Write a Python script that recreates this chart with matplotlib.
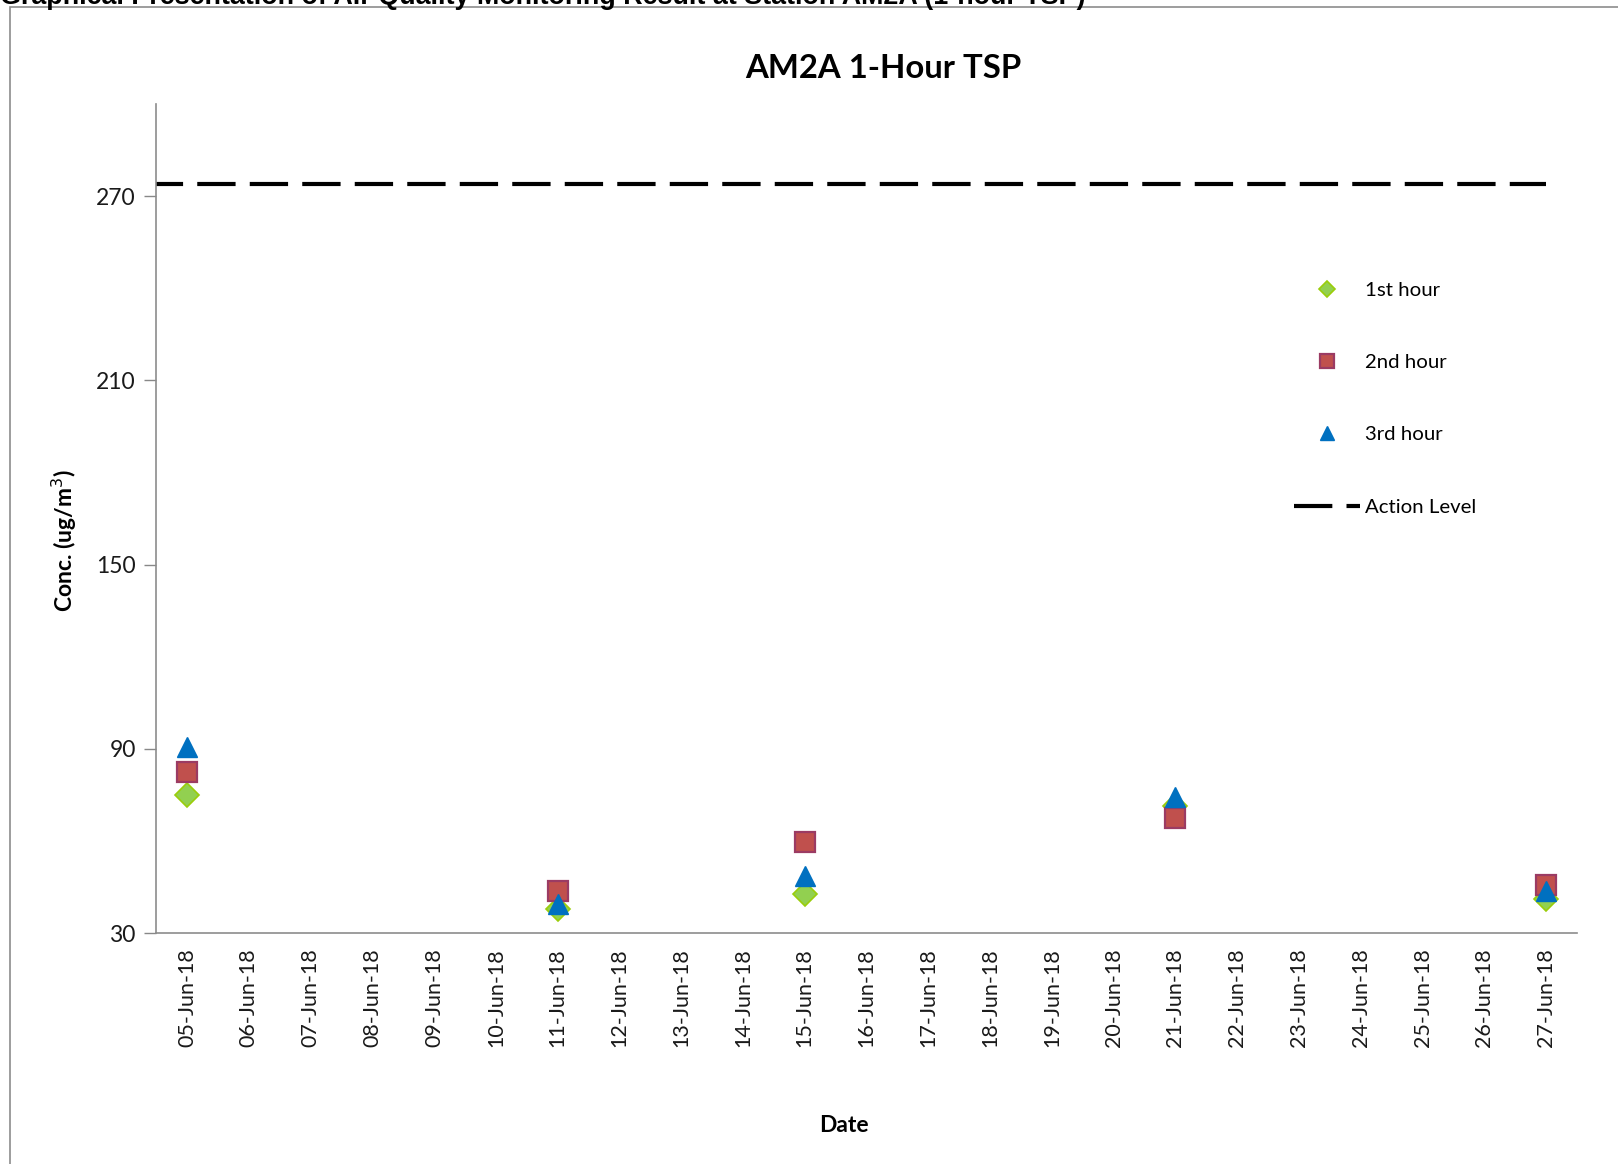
import matplotlib.pyplot as plt
from matplotlib.patches import Rectangle
from matplotlib.lines import Line2D

W, H = 1618, 1164

dates = ['05-Jun-18', '06-Jun-18', '07-Jun-18', '08-Jun-18', '09-Jun-18', '10-Jun-18',
         '11-Jun-18', '12-Jun-18', '13-Jun-18', '14-Jun-18', '15-Jun-18', '16-Jun-18',
         '17-Jun-18', '18-Jun-18', '19-Jun-18', '20-Jun-18', '21-Jun-18', '22-Jun-18',
         '23-Jun-18', '24-Jun-18', '25-Jun-18', '26-Jun-18', '27-Jun-18']

# sampling days and measured values
sample_dates = ['05-Jun-18', '11-Jun-18', '15-Jun-18', '21-Jun-18', '27-Jun-18']
hour1 = [74.8, 37.7, 42.8, 71.5, 41.1]
hour2 = [82.5, 43.8, 59.6, 67.4, 45.5]
hour3 = [90.6, 39.4, 48.5, 74.4, 43.8]
action_level = 274

y_ticks = [30, 90, 150, 210, 270]

plt.rcParams['font.family'] = ['Lato', 'DejaVu Sans']

fig = plt.figure(figsize=(W / 100, H / 100), dpi=100)
ax = fig.add_axes([156 / W, 1 - 933 / H, (1577 - 156) / W, (933 - 104) / H])

xs = [dates.index(d) for d in sample_dates]

h1, = ax.plot(xs, hour1, linestyle='none', marker='D', markersize=12,
              markerfacecolor='#92D050', markeredgecolor='#9ACD0A', markeredgewidth=1.2,
              label='1st hour', zorder=3)
h2, = ax.plot(xs, hour2, linestyle='none', marker='s', markersize=14,
              markerfacecolor='#C0504D', markeredgecolor='#9B3B63', markeredgewidth=1.6,
              label='2nd hour', zorder=3)
h3, = ax.plot(xs, hour3, linestyle='none', marker='^', markersize=14,
              markerfacecolor='#0070C0', markeredgecolor='#0070C0', markeredgewidth=1,
              label='3rd hour', zorder=4)
ax.plot([-0.5, len(dates) - 1], [action_level, action_level], color='black', lw=3,
        linestyle=(2.7, (9.2, 3.4)), zorder=2)
# legend swatch starts with a full dash, as in the original
h4 = Line2D([], [], color='black', lw=3, linestyle=(0, (9.2, 3.4)), label='Action Level')

ax.set_xlim(-0.5, len(dates) - 0.5)
ax.set_ylim(30, 300)
ax.set_yticks(y_ticks)
ax.set_xticks(range(len(dates)))
ax.set_xticklabels(dates, rotation=90, fontsize=15.5, color='#1a1a1a')
ax.tick_params(axis='x', length=0, pad=11)
ax.tick_params(axis='y', length=8.5, width=1, color='#888888', labelsize=16.5,
               labelcolor='#1a1a1a', pad=6)

for s in ['top', 'right']:
    ax.spines[s].set_visible(False)
for s in ['left', 'bottom']:
    ax.spines[s].set_color('#8c8c8c')
    ax.spines[s].set_linewidth(1.2)

fig.text(883 / W, 1 - 68 / H, 'AM2A 1-Hour TSP', fontsize=23.7, fontweight='bold',
         ha='center', va='center')
fig.text(844 / W, 1 - 1125 / H, 'Date', fontsize=16.5, fontweight='bold',
         ha='center', va='center')
fig.text(64 / W, 1 - 541 / H, 'Conc. (ug/m$^3$)', fontsize=16.5, fontweight='bold',
         rotation=90, ha='center', va='center')

# cropped page header above the chart box
fig.text(0, 1 - 4 / H, 'Graphical Presentation of Air Quality Monitoring Result at Station AM2A (1-hour TSP)',
         fontsize=19.4, fontweight='bold', family='Liberation Sans', ha='left', va='baseline')

fig.patches.append(Rectangle((10 / W, -0.1), 1.2, 1 - 7 / H + 0.1, transform=fig.transFigure,
                             fill=False, edgecolor='#8c8c8c', lw=1.2))

leg = ax.legend(handles=[h1, h2, h3, h4], loc='upper left',
                bbox_to_anchor=(1276 / W, 1 - 263 / H),
                bbox_transform=fig.transFigure, frameon=False, fontsize=14.7,
                labelspacing=2.7, markerscale=0.7, handlelength=3.2, handletextpad=0.25)

fig.savefig('out.png', dpi=100)
